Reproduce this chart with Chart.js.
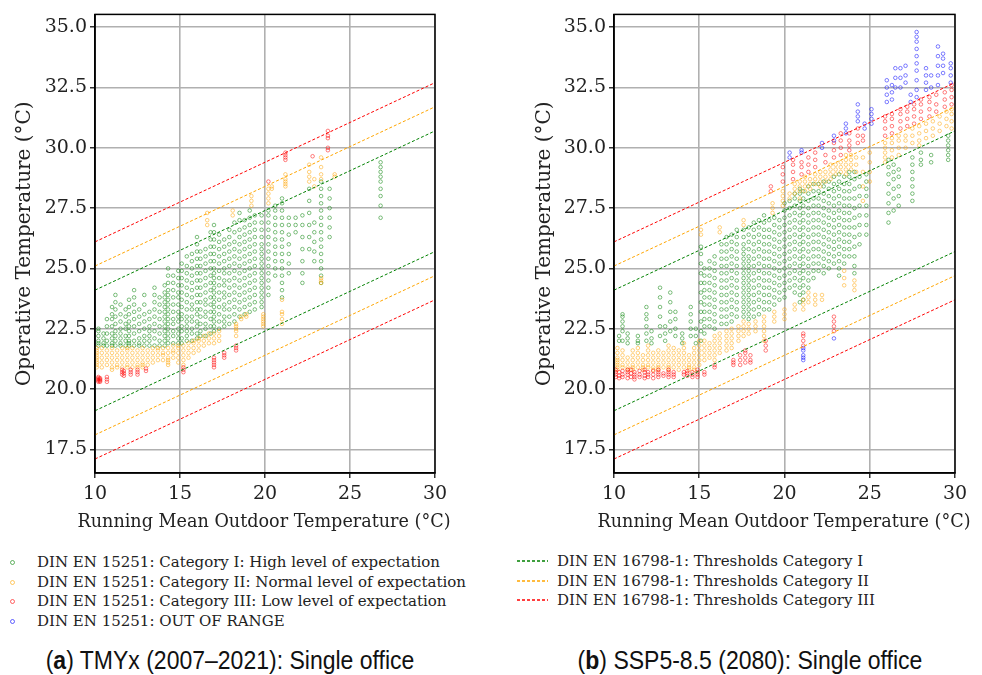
<!DOCTYPE html>
<html>
<head>
<meta charset="utf-8">
<script src="https://cdn.jsdelivr.net/npm/chart.js@4.4.1/dist/chart.umd.min.js"></script>
<style>
  body { margin: 0; background: #fff; width: 982px; height: 675px; position: relative; overflow: hidden; }
  canvas { position: absolute; top: 0; }
  #chartA { left: 0; }
  #chartB { left: 520px; }
  .legend { position: absolute; font-family: "DejaVu Serif", serif; font-size: 15px; color: #222; }
  .legend div { position: absolute; white-space: nowrap; height: 18px; line-height: 18px; }
  .mk { position: absolute; width: 3px; height: 3px; border-radius: 50%; border: 1px solid; top: 7px; }
  .xtitle { position: absolute; top: 511px; font-family: "DejaVu Serif", serif; font-size: 17.6px; color: #222; white-space: nowrap; transform: translateX(-50%); }
  .caption { position: absolute; top: 646px; font-family: "Liberation Sans Narrow", "Liberation Sans", sans-serif; font-size: 25px; color: #111; white-space: nowrap; transform: translateX(-50%) scaleX(0.92); }
</style>
</head>
<body>
<canvas id="chartA" width="470" height="545"></canvas>
<canvas id="chartB" width="460" height="545"></canvas>

<div class="xtitle" style="left:264px;">Running Mean Outdoor Temperature (°C)</div>
<div class="xtitle" style="left:784px;">Running Mean Outdoor Temperature (°C)</div>

<div class="legend" id="legLeft" style="left:0;top:553px;">
  <div style="top:0;left:0;"><span class="mk" style="left:10px;border-color:rgba(0,128,0,0.6)"></span><span style="position:absolute;left:37px;">DIN EN 15251: Category I: High level of expectation</span></div>
  <div style="top:19.5px;left:0;"><span class="mk" style="left:10px;border-color:rgba(255,165,0,0.6)"></span><span style="position:absolute;left:37px;">DIN EN 15251: Category II: Normal level of expectation</span></div>
  <div style="top:39px;left:0;"><span class="mk" style="left:10px;border-color:rgba(255,0,0,0.6)"></span><span style="position:absolute;left:37px;">DIN EN 15251: Category III: Low level of expectation</span></div>
  <div style="top:58.5px;left:0;"><span class="mk" style="left:10px;border-color:rgba(0,0,255,0.6)"></span><span style="position:absolute;left:37px;">DIN EN 15251: OUT OF RANGE</span></div>
</div>
<div class="legend" id="legRight" style="left:517px;top:552px;">
  <div style="top:0;left:0;"><svg width="32" height="18" style="position:absolute;left:0;top:0"><line x1="0" y1="9" x2="31" y2="9" stroke="green" stroke-width="1.3" stroke-dasharray="3,2"/></svg><span style="position:absolute;left:40px;">DIN EN 16798-1: Thresholds Category I</span></div>
  <div style="top:19.5px;left:0;"><svg width="32" height="18" style="position:absolute;left:0;top:0"><line x1="0" y1="9" x2="31" y2="9" stroke="orange" stroke-width="1.3" stroke-dasharray="3,2"/></svg><span style="position:absolute;left:40px;">DIN EN 16798-1: Thresholds Category II</span></div>
  <div style="top:39px;left:0;"><svg width="32" height="18" style="position:absolute;left:0;top:0"><line x1="0" y1="9" x2="31" y2="9" stroke="red" stroke-width="1.3" stroke-dasharray="3,2"/></svg><span style="position:absolute;left:40px;">DIN EN 16798-1: Thresholds Category III</span></div>
</div>

<div class="caption" style="left:230px;">(<b>a</b>) TMYx (2007–2021): Single office</div>
<div class="caption" style="left:750px;">(<b>b</b>) SSP5-8.5 (2080): Single office</div>

<script>
// ---- оси ----
const xTicks = [10, 15, 20, 25, 30];
const yTicks = [17.5, 20.0, 22.5, 25.0, 27.5, 30.0, 32.5, 35.0];
const yLabel = 'Operative Temperature (°C)';

// ---- пороги DIN EN 16798-1 (концы линий при x = 10 и x = 30) ----
const thrX = [10, 30];
const thrCatIUpper = [24.1, 30.7];
const thrCatILower = [19.1, 25.7];
const thrCatIIUpper = [25.1, 31.7];
const thrCatIILower = [18.1, 24.7];
const thrCatIIIUpper = [26.1, 32.7];
const thrCatIIILower = [17.1, 23.7];

// ---- (a) TMYx: столбцы [x, [y...]] ----
const tmyCatI = [
  [10.2, [21.8,21.9,22.0,22.2,22.4,22.5]],
  [10.5, [21.8,21.9,22.1,22.3]],
  [10.7, [21.8,22.0,22.3,22.6,22.9]],
  [11.0, [21.8,21.9,22.1,22.3,22.6,22.9,23.1,23.4]],
  [11.2, [21.8,22.0,22.2,22.4,22.7,23.0,23.3,23.6,23.9]],
  [11.5, [21.8,21.9,22.1,22.3,22.5,22.8,23.1,23.5]],
  [11.8, [21.8,22.0,22.2,22.5,22.7,23.0,23.3]],
  [12.0, [21.8,21.9,22.0,22.2,22.4,22.6,22.8,23.1,23.4,23.7]],
  [12.3, [21.8,22.0,22.3,22.6,22.9,23.2,23.5,23.8,24.1]],
  [12.6, [21.8,21.9,22.1,22.4,22.7,23.0,23.3]],
  [12.9, [21.8,22.0,22.2,22.5,22.8,23.1,23.5,23.9]],
  [13.2, [21.8,22.0,22.2,22.4,22.6,22.9,23.2]],
  [13.5, [21.8,22.1,22.4,22.7,23.0,23.3,23.6,23.9,24.2]],
  [13.8, [21.8,22.0,22.3,22.6,22.9,23.2,23.5,23.8]],
  [14.1, [21.8,22.0,22.2,22.4,22.6,22.8,23.0,23.2,23.4,23.6,23.8,24.0,24.3]],
  [14.3, [21.9,22.1,22.3,22.5,22.7,22.9,23.1,23.3,23.5,23.7,23.9,24.1,24.4,24.7,25.0]],
  [14.6, [21.9,22.2,22.4,22.7,22.9,23.2,23.5,23.8,24.1,24.4,24.7]],
  [14.9, [21.9,22.1,22.3,22.5,22.8,23.0,23.2,23.5,23.8,24.0,24.3,24.6,24.9]],
  [15.1, [21.9,22.1,22.4,22.6,22.9,23.1,23.4,23.7,24.0,24.3,24.6,24.9,25.2]],
  [15.4, [22.0,22.2,22.4,22.6,22.8,23.0,23.3,23.6,23.9,24.2,24.5,24.8,25.1,25.5]],
  [15.7, [22.0,22.3,22.5,22.8,23.0,23.3,23.5,23.8,24.1,24.4,24.7,25.0,25.3,25.6]],
  [16.0, [22.1,22.3,22.6,22.8,23.1,23.3,23.6,23.9,24.2,24.5,24.8,25.1,25.4,25.7,26.0,26.3]],
  [16.2, [22.2,22.4,22.7,23.0,23.3,23.6,23.9,24.2,24.5,24.8,25.1,25.4,25.7]],
  [16.5, [22.2,22.5,22.7,23.0,23.2,23.5,23.7,24.0,24.3,24.6,24.9,25.2,25.5,25.8]],
  [16.8, [22.3,22.6,22.9,23.2,23.5,23.8,24.1,24.4,24.7,25.0,25.3,25.6,25.9,26.2,26.5]],
  [17.0, [22.4,22.6,22.8,23.0,23.2,23.4,23.6,23.8,24.0,24.2,24.4,24.6,24.8,25.0,25.3,25.6,25.9,26.2,26.5,26.8]],
  [17.3, [22.5,22.8,23.1,23.4,23.7,24.0,24.3,24.6,24.9,25.2,25.5,25.8,26.1,26.4]],
  [17.6, [22.6,22.8,23.0,23.3,23.5,23.8,24.0,24.3,24.5,24.8,25.0,25.3,25.6,25.9,26.2]],
  [17.9, [22.7,23.0,23.3,23.6,23.9,24.2,24.5,24.8,25.1,25.4,25.7,26.0,26.3,26.6]],
  [18.2, [22.8,23.1,23.4,23.7,24.0,24.3,24.6,24.9,25.2,25.5,25.8,26.1,26.5,26.9]],
  [18.5, [23.0,23.3,23.6,23.9,24.2,24.5,24.8,25.1,25.4,25.7,26.0,26.3,26.6,27.0,27.3]],
  [18.8, [23.1,23.4,23.7,24.0,24.3,24.6,24.9,25.2,25.5,25.8,26.1,26.4,26.7,27.0]],
  [19.1, [23.2,23.5,23.8,24.1,24.4,24.7,25.0,25.3,25.6,25.9,26.2,26.5,26.8,27.1,27.4]],
  [19.4, [23.3,23.6,23.9,24.2,24.5,24.8,25.1,25.4,25.7,26.0,26.3,26.6,26.9,27.2]],
  [19.8, [23.4,23.6,23.8,24.0,24.2,24.4,24.6,24.8,25.0,25.2,25.4,25.6,25.8,26.0,26.3,26.6,26.9,27.2]],
  [20.2, [23.9,24.2,24.5,24.8,25.1,25.4,25.7,26.0,26.3,26.6,26.9,27.2,27.4]],
  [20.6, [24.7,25.0,25.3,25.6,25.9,26.2,26.5,26.8,27.1,27.4,27.6]],
  [21.0, [23.8,24.1,24.4,24.7,25.0,25.3,25.6,25.9,26.2,26.5,26.8,27.1,27.4,27.7,27.9]],
  [21.4, [24.8,25.2,25.6,26.0,26.4,26.8,27.1]],
  [21.8, [26.5,26.8,27.1]],
  [22.2, [24.4,24.8,25.3,25.8,26.3,26.8,27.2]],
  [22.6, [25.8,26.3,26.8,27.3,27.8,28.3]],
  [22.9, [25.3,25.7,26.1,26.5,26.9]],
  [23.3, [24.4,24.7,25.0,25.3,25.6,25.9,26.2,26.5,26.8,27.1,27.4,27.7,28.0,28.3,28.6]],
  [23.8, [26.3,26.7,27.1,27.5,27.9,28.3]],
  [26.8, [27.1,27.6,28.0,28.3,28.6,28.8,29.0,29.2,29.4]]
];
const tmyCatII = [
  [10.1, [20.9,21.0,21.1,21.2,21.3,21.4,21.5,21.6,21.7]],
  [10.4, [20.9,21.1,21.3,21.5,21.7]],
  [10.7, [21.0,21.2,21.4,21.6]],
  [11.0, [20.8,20.9,21.1,21.3,21.5,21.7]],
  [11.3, [20.9,21.0,21.2,21.4,21.6]],
  [11.6, [20.9,21.1,21.3,21.5,21.7]],
  [11.9, [20.9,21.0,21.2,21.4,21.6,21.7]],
  [12.2, [20.9,21.1,21.3,21.5,21.7]],
  [12.5, [20.9,21.0,21.2,21.4,21.6]],
  [12.8, [20.9,21.0,21.1,21.3,21.5,21.7]],
  [13.1, [21.0,21.2,21.4,21.6]],
  [13.4, [21.1,21.3,21.5,21.7]],
  [13.7, [21.2,21.4,21.6,21.7]],
  [14.0, [21.2,21.4,21.5,21.7]],
  [14.3, [21.0,21.1,21.2,21.3,21.5,21.7]],
  [14.6, [21.3,21.5,21.6,21.8]],
  [14.9, [21.1,21.3,21.5,21.7,21.8]],
  [15.2, [21.0,21.2,21.4,21.6,21.8]],
  [15.5, [21.3,21.5,21.7,21.9]],
  [15.8, [21.5,21.7,21.9,22.0]],
  [16.1, [21.6,21.8,22.0,22.1]],
  [16.4, [21.8,22.0,22.2]],
  [16.7, [21.9,22.1,22.3]],
  [17.0, [21.9,22.1,22.3]],
  [17.3, [22.0,22.2,22.4]],
  [18.3, [22.2,22.4,22.5,22.6,22.7]],
  [18.6, [22.9,23.0]],
  [18.9, [23.0,23.1]],
  [19.9, [22.6,22.7,22.8,22.9,23.0,23.1]],
  [21.0, [22.7,22.9,23.1,23.2,23.7]],
  [23.3, [24.4,24.5,24.6]],
  [16.6, [26.8,27.0,27.3]],
  [18.1, [27.2,27.4]],
  [19.2, [27.6,27.8,28.0]],
  [20.2, [27.7,27.9,28.1,28.3]],
  [20.4, [28.3,28.4]],
  [21.2, [28.4,28.5,28.6,28.7,28.9]],
  [22.6, [28.6,28.8,29.0,29.3]],
  [22.9, [28.4,28.7]],
  [23.3, [28.7,28.9,29.2,29.6]],
  [24.1, [28.8,28.9]]
];
const tmyCatIII = [
  [10.2, [20.3,20.35,20.4,20.45,20.5]],
  [10.3, [20.3,20.35,20.4,20.45]],
  [10.7, [20.3,20.4,20.5]],
  [11.6, [20.6,20.7,20.8]],
  [11.7, [20.55,20.65,20.75]],
  [12.1, [20.6,20.7,20.8]],
  [12.5, [20.6,20.7,20.8]],
  [13.0, [20.75,20.85]],
  [15.2, [20.7,20.8,20.9]],
  [17.0, [20.9,21.0,21.1,21.2,21.3]],
  [17.6, [21.3,21.4,21.5]],
  [18.3, [21.6,21.7,21.8]],
  [20.2, [28.6]],
  [21.2, [29.5,29.6,29.7,29.8]],
  [22.8, [29.65]],
  [23.7, [29.9,30.0,30.4,30.5,30.7]]
];
const tmyOut = [];

// ---- (b) SSP5-8.5 2080 ----
const sspCatI = [
  [10.3, [22.0,22.2]],
  [10.5, [22.0,22.4,22.6,22.8,23.0,23.1]],
  [10.8, [21.9,22.1,22.3]],
  [11.4, [21.9,22.0,22.2]],
  [11.9, [22.0,22.3,22.6,22.9,23.1,23.4]],
  [12.2, [21.9,22.1,22.4]],
  [12.7, [22.2,22.6,23.0,23.4,23.8,24.2]],
  [13.0, [22.0,22.3,22.6]],
  [13.3, [22.4,22.8,23.2,23.6,24.0]],
  [13.6, [22.2,22.5,22.9,23.2]],
  [14.0, [21.9,22.1,22.3]],
  [14.5, [22.2,22.5,22.8,23.1,23.4]],
  [14.8, [21.9,22.2,22.5]],
  [15.1, [22.0,22.4,22.8,23.2,23.6,24.0,24.4,24.8,25.2,25.6,25.9]],
  [15.3, [22.3,22.6,22.9,23.2,23.5,23.8,24.1,24.4,24.7,25.0]],
  [15.6, [22.6,22.9,23.2,23.5,23.8,24.1,24.4,24.7,25.0,25.3]],
  [15.9, [22.5,22.8,23.1,23.4,23.7,24.0,24.3,24.6,24.9,25.2,25.5]],
  [16.3, [22.7,23.0,23.3,23.6,23.9,24.2,24.5,24.8,25.1,25.4,25.7,26.0]],
  [16.6, [22.7,23.0,23.3,23.6,23.9,24.2,24.5,24.8,25.1,25.4,25.7,26.0,26.3]],
  [16.9, [22.8,23.1,23.4,23.7,24.0,24.3,24.6,24.9,25.2,25.5,25.8,26.1,26.4]],
  [17.2, [23.0,23.3,23.6,23.9,24.2,24.5,24.8,25.1,25.4,25.7,26.0,26.3,26.6]],
  [17.6, [23.0,23.2,23.4,23.6,23.8,24.0,24.2,24.4,24.6,24.8,25.0,25.2,25.4,25.6,25.8,26.0,26.3,26.6]],
  [17.9, [22.9,23.1,23.3,23.5,23.7,23.9,24.1,24.3,24.5,24.7,24.9,25.1,25.3,25.5,25.8,26.1,26.4,26.7]],
  [18.2, [23.0,23.3,23.6,23.9,24.2,24.5,24.8,25.1,25.4,25.7,26.0,26.3,26.6,26.9]],
  [18.5, [23.1,23.4,23.7,24.0,24.3,24.6,24.9,25.2,25.5,25.8,26.1,26.4,26.7,27.0]],
  [18.8, [23.3,23.6,23.9,24.2,24.5,24.8,25.1,25.4,25.7,26.0,26.3,26.6,26.9,27.2]],
  [19.1, [23.3,23.6,23.9,24.2,24.5,24.8,25.1,25.4,25.7,26.0,26.3,26.6,27.0]],
  [19.4, [23.5,23.8,24.1,24.4,24.7,25.0,25.3,25.6,25.9,26.2,26.5,26.8,27.1]],
  [19.7, [23.7,24.0,24.3,24.6,24.9,25.2,25.5,25.8,26.1,26.4,26.7,27.0]],
  [20.0, [23.8,24.1,24.4,24.7,25.0,25.3,25.6,25.9,26.2,26.5,26.8,27.1,27.4,27.7]],
  [20.3, [24.2,24.5,24.8,25.1,25.4,25.7,26.0,26.3,26.6,26.9,27.2,27.5,27.8]],
  [20.6, [24.0,24.3,24.6,24.9,25.2,25.5,25.8,26.1,26.4,26.7,27.0,27.3,27.6,27.9,28.1]],
  [20.9, [23.6,23.9,24.2,24.5,24.8,25.1,25.4,25.7,26.0,26.3,26.6,26.9,27.2,27.5,27.8,28.1,28.3]],
  [21.1, [23.7,24.0,24.3,24.6,24.9,25.2,25.5,25.8,26.1,26.4,26.7,27.0,27.3,27.6,27.9,28.2]],
  [21.4, [24.2,24.5,24.8,25.1,25.4,25.7,26.0,26.3,26.6,26.9,27.2,27.5,27.8,28.1,28.4]],
  [21.7, [24.6,24.9,25.2,25.5,25.8,26.1,26.4,26.7,27.0,27.3,27.6,27.9,28.2,28.5]],
  [22.0, [24.9,25.2,25.5,25.8,26.1,26.4,26.7,27.0,27.3,27.6,27.9,28.2,28.5]],
  [22.3, [24.8,25.1,25.4,25.7,26.0,26.3,26.6,26.9,27.2,27.5,27.8,28.1,28.4,28.6]],
  [22.6, [25.0,25.3,25.6,25.9,26.2,26.5,26.8,27.1,27.4,27.7,28.0,28.3,28.6]],
  [22.9, [25.2,25.5,25.8,26.1,26.4,26.7,27.0,27.3,27.6,27.9,28.2,28.5,28.8]],
  [23.2, [24.7,25.0,25.3,25.6,25.9,26.2,26.5,26.8,27.1,27.4,27.7,28.0,28.3,28.6,28.9]],
  [23.5, [25.2,25.5,25.8,26.1,26.4,26.7,27.0,27.3,27.6,27.9,28.2,28.5,28.8]],
  [23.8, [25.5,25.8,26.1,26.4,26.7,27.0,27.3,27.6,27.9,28.2,28.5,28.8,29.0]],
  [24.1, [24.8,25.1,25.5,25.9,26.3,26.7,27.1,27.5,27.9,28.3,28.7,29.0]],
  [24.4, [26.0,26.4,26.8,27.2,27.6,28.0,28.4,28.8]],
  [24.8, [26.4,26.8,27.2,27.6,28.0,28.3,28.6,28.9]],
  [26.1, [26.9,27.3,27.7,28.1,28.5,28.9,29.2,29.5]],
  [26.4, [27.4,27.9,28.3,28.7,29.0,29.3]],
  [26.7, [27.6,28.0,28.4,28.8,29.1]],
  [27.5, [27.8,28.1,28.4,28.7,29.0,29.3,29.6]],
  [28.0, [29.3,29.5,29.8]],
  [28.6, [29.4,29.7]],
  [29.6, [29.5,29.7,29.9,30.1,30.3,30.5]]
];
const sspCatII = [
  [10.2, [20.8,20.9,21.0,21.1,21.2,21.3,21.5,21.7]],
  [10.5, [20.9,21.0,21.2,21.4,21.6]],
  [10.8, [20.8,20.9,21.1,21.3]],
  [11.1, [20.8,20.9,21.0,21.2,21.4,21.6]],
  [11.4, [20.9,21.1,21.3,21.5,21.7]],
  [11.7, [20.8,20.9,21.0,21.2,21.4]],
  [12.0, [20.9,21.0,21.2,21.4,21.6,21.8]],
  [12.3, [20.8,20.9,21.1,21.3,21.5]],
  [12.6, [20.8,20.9,21.0,21.2,21.4,21.6]],
  [12.9, [20.9,21.1,21.3,21.5]],
  [13.2, [20.8,20.9,21.0,21.2,21.4,21.6,21.8]],
  [13.5, [20.9,21.1,21.3,21.5,21.7]],
  [13.8, [20.8,21.0,21.2,21.4,21.6]],
  [14.1, [20.9,21.1,21.3,21.5,21.7,21.9]],
  [14.4, [20.8,20.9,21.0,21.2,21.4]],
  [14.7, [20.8,20.9,21.1,21.3,21.5,21.7]],
  [15.0, [21.0,21.2,21.4,21.6,21.8,22.0]],
  [15.3, [21.2,21.4,21.6,21.8,22.0]],
  [15.6, [21.3,21.5,21.7,21.9]],
  [15.9, [21.2,21.4,21.6,21.8,22.0,22.2]],
  [16.2, [21.5,21.7,21.9,22.1,22.3]],
  [16.6, [21.6,21.8,22.0,22.2,22.4]],
  [16.9, [21.7,21.9,22.1,22.3,22.5]],
  [17.3, [22.0,22.2,22.4,22.6]],
  [17.6, [22.2,22.4,22.6,22.8]],
  [17.9, [22.3,22.5,22.7]],
  [18.3, [22.4,22.6,22.8]],
  [18.8, [22.0,22.2,22.4,22.6,22.8,23.0]],
  [19.4, [22.8,23.0,23.2]],
  [20.0, [22.9,23.1,23.3]],
  [20.6, [23.3,23.5]],
  [21.1, [23.3,23.5,23.7]],
  [21.4, [23.6,23.8,24.0]],
  [21.8, [23.5,23.7,23.9]],
  [22.2, [23.7,23.9]],
  [23.5, [24.3,24.6,24.9]],
  [24.1, [24.1,24.3,24.5]],
  [15.1, [26.4,26.6]],
  [16.2, [26.5,26.7]],
  [17.6, [26.8,27.0]],
  [19.3, [27.3,27.5,27.7]],
  [19.9, [27.6,27.8,28.0,28.2]],
  [20.3, [27.9,28.1]],
  [20.6, [28.1,28.3,28.5]],
  [20.9, [27.9,28.2,28.4,28.6]],
  [21.2, [28.2,28.4,28.6,28.8]],
  [21.5, [28.3,28.5,28.7]],
  [21.8, [28.5,28.7,28.9]],
  [22.1, [28.4,28.6,28.8,29.0]],
  [22.4, [28.6,28.8,29.0]],
  [22.7, [28.7,28.9,29.1,29.3]],
  [23.0, [28.9,29.1,29.3]],
  [23.3, [29.0,29.2,29.4]],
  [23.6, [28.9,29.1,29.3,29.5,29.7]],
  [23.9, [29.1,29.3,29.5,29.7]],
  [24.2, [29.0,29.3,29.6]],
  [24.6, [27.8,28.4,29.0,29.6]],
  [25.0, [28.6,29.0,29.4,29.8]],
  [25.9, [29.4,29.6,29.8,30.0,30.2]],
  [26.3, [29.6,29.9,30.2,30.4]],
  [26.7, [29.7,30.0,30.3,30.5]],
  [27.1, [30.0,30.3,30.5]],
  [27.5, [30.2,30.5,30.8]],
  [27.9, [30.1,30.3,30.6,30.9]],
  [28.3, [30.4,30.7,31.0]],
  [28.7, [30.5,30.8,31.1]],
  [29.1, [30.7,31.0,31.3]],
  [29.5, [30.9,31.2,31.5]],
  [29.8, [30.8,31.1,31.4,31.6]]
];
const sspCatIII = [
  [10.1, [20.5,20.6,20.7,20.8]],
  [10.3, [20.45,20.55,20.7]],
  [10.5, [20.5,20.6,20.75]],
  [10.8, [20.45,20.6,20.7,20.8]],
  [11.0, [20.5,20.65,20.8]],
  [11.2, [20.4,20.5,20.6,20.7]],
  [11.5, [20.5,20.6,20.75]],
  [11.8, [20.45,20.55,20.7,20.8]],
  [12.0, [20.5,20.6,20.7]],
  [12.3, [20.45,20.6,20.75]],
  [12.6, [20.5,20.6,20.7,20.8]],
  [12.9, [20.55,20.65]],
  [13.2, [20.5,20.6,20.7,20.8]],
  [13.5, [20.5,20.6,20.7]],
  [14.1, [20.6,20.7]],
  [14.3, [20.55,20.65,20.75]],
  [14.6, [20.5,20.6,20.7]],
  [14.9, [20.5,20.6,20.7,20.8]],
  [15.3, [20.6,20.7]],
  [15.9, [20.9,21.0]],
  [17.0, [21.0,21.1,21.2]],
  [17.4, [21.0,21.2,21.4]],
  [17.7, [21.1,21.3,21.5,21.6]],
  [18.0, [21.1,21.2,21.4]],
  [18.9, [21.6,21.8,22.0]],
  [21.1, [21.8,22.0,22.2,22.3]],
  [22.9, [22.4,22.6,22.8,23.0]],
  [19.2, [28.2,28.4]],
  [19.9, [28.6,28.9,29.2]],
  [20.5, [28.7,29.0,29.3,29.5]],
  [21.0, [28.9,29.2,29.4]],
  [21.4, [29.0,29.3,29.6]],
  [21.8, [29.2,29.5,29.8]],
  [22.4, [29.4,29.7]],
  [22.9, [29.6,29.9,30.2]],
  [23.3, [29.7,30.0,30.3,30.6]],
  [23.8, [29.9,30.1,30.3,30.6]],
  [24.3, [30.2,30.5,30.8]],
  [24.6, [30.3,30.5]],
  [25.9, [30.5,30.8,31.1,31.3]],
  [26.3, [30.6,30.9,31.2,31.4]],
  [26.8, [30.8,31.1,31.4,31.6]],
  [27.2, [30.9,31.2,31.5,31.7]],
  [27.6, [31.0,31.3,31.6,31.8]],
  [28.0, [31.2,31.5,31.8,32.0]],
  [28.5, [31.3,31.6,31.9,32.1]],
  [28.9, [31.5,31.8,32.2]],
  [29.4, [31.7,32.0,32.3]],
  [29.8, [31.8,32.1,32.4,32.6]]
];
const sspOut = [
  [20.3, [29.6,29.8]],
  [21.0, [29.8,29.9]],
  [21.1, [21.2,21.3,21.4,21.6,21.7]],
  [22.2, [30.0,30.2]],
  [22.9, [22.1,30.3,30.5]],
  [23.6, [30.6,30.8,31.0]],
  [24.3, [31.1,31.3,31.5,31.8]],
  [24.7, [30.8,31.0]],
  [25.1, [31.0,31.2,31.4,31.6]],
  [26.0, [31.9,32.2,32.5,32.8]],
  [26.3, [32.0,32.3,32.6]],
  [26.5, [32.5,32.9,33.3]],
  [26.8, [32.5,32.9,33.3]],
  [27.1, [32.7,33.0,33.4]],
  [27.4, [31.9,32.2]],
  [27.75, [32.1,32.4,32.8,33.2,33.5,33.8,34.1,34.4,34.6,34.8]],
  [28.3, [32.4,32.7,33.0,33.3]],
  [28.6, [32.5,33.0]],
  [29.0, [32.6,33.0,33.4,33.8,34.2]],
  [29.3, [33.1,33.4,33.7,33.9]],
  [29.75, [32.7,33.0,33.3,33.5]]
];

// ---- сборка ----
function toPoints(cols) {
  return cols.flatMap(([x, ys]) => ys.map(y => ({ x: x, y: y })));
}
function thrLine(ys, color) {
  return {
    data: thrX.map((x, i) => ({ x: x, y: ys[i] })),
    showLine: true, pointRadius: 0, borderColor: color, borderWidth: 1,
    borderDash: [3, 2], fill: false, order: 0
  };
}
function scatterSet(cols, rgb, order) {
  return {
    data: toPoints(cols),
    pointRadius: 1.8, pointBorderWidth: 0.85,
    pointBackgroundColor: 'rgba(0,0,0,0)',
    pointBorderColor: 'rgba(' + rgb + ',0.6)',
    order: order
  };
}

const framePlugin = {
  id: 'frame',
  afterDraw(chart) {
    const a = chart.chartArea, ctx = chart.ctx;
    ctx.save();
    ctx.strokeStyle = '#000';
    ctx.lineWidth = 1.5;
    ctx.strokeRect(a.left, a.top, a.right - a.left, a.bottom - a.top);
    ctx.restore();
  }
};

function makeChart(id, cats, yWidth, padRight) {
  const tickFont = { family: 'DejaVu Serif', size: 19 };
  const titleFont = { family: 'DejaVu Serif', size: 20 };
  const datasets = [
    scatterSet(cats[0], '0,128,0', 4),
    scatterSet(cats[1], '255,165,0', 3),
    scatterSet(cats[2], '255,0,0', 2),
    scatterSet(cats[3], '0,0,255', 1),
    thrLine(thrCatIUpper, 'green'), thrLine(thrCatILower, 'green'),
    thrLine(thrCatIIUpper, 'orange'), thrLine(thrCatIILower, 'orange'),
    thrLine(thrCatIIIUpper, 'red'), thrLine(thrCatIIILower, 'red')
  ];
  return new Chart(document.getElementById(id), {
    type: 'scatter',
    data: { datasets: datasets },
    options: {
      responsive: false,
      animation: false,
      devicePixelRatio: 1,
      layout: { padding: { left: 0, top: 11, right: padRight, bottom: 0 } },
      plugins: { legend: { display: false }, tooltip: { enabled: false } },
      scales: {
        x: {
          type: 'linear', min: 10, max: 30,
          afterBuildTicks: s => { s.ticks = xTicks.map(v => ({ value: v })); },
          afterFit: s => { s.height = 72; },
          ticks: { font: tickFont, color: '#222', padding: 5, maxRotation: 0, callback: v => String(v) },
          grid: { color: '#b0b0b0', lineWidth: 1.6, tickLength: 5, tickColor: '#000', tickWidth: 1.2 },
          border: { display: true, color: '#000', width: 1.5 }
        },
        y: {
          type: 'linear', min: 16.52, max: 35.53,
          afterBuildTicks: s => { s.ticks = yTicks.map(v => ({ value: v })); },
          afterFit: s => { s.width = yWidth; },
          ticks: { font: tickFont, color: '#222', padding: 3, callback: v => v.toFixed(1) },
          grid: { color: '#b0b0b0', lineWidth: 1.6, tickLength: 5, tickColor: '#000', tickWidth: 1.2 },
          border: { display: true, color: '#000', width: 1.5 },
          title: { display: true, text: yLabel, font: titleFont, color: '#222', padding: { top: 13, bottom: 0 } }
        }
      }
    },
    plugins: [framePlugin]
  });
}

makeChart('chartA', [tmyCatI, tmyCatII, tmyCatIII, tmyOut], 95, 35);
makeChart('chartB', [sspCatI, sspCatII, sspCatIII, sspOut], 94, 25);
</script>
</body>
</html>
